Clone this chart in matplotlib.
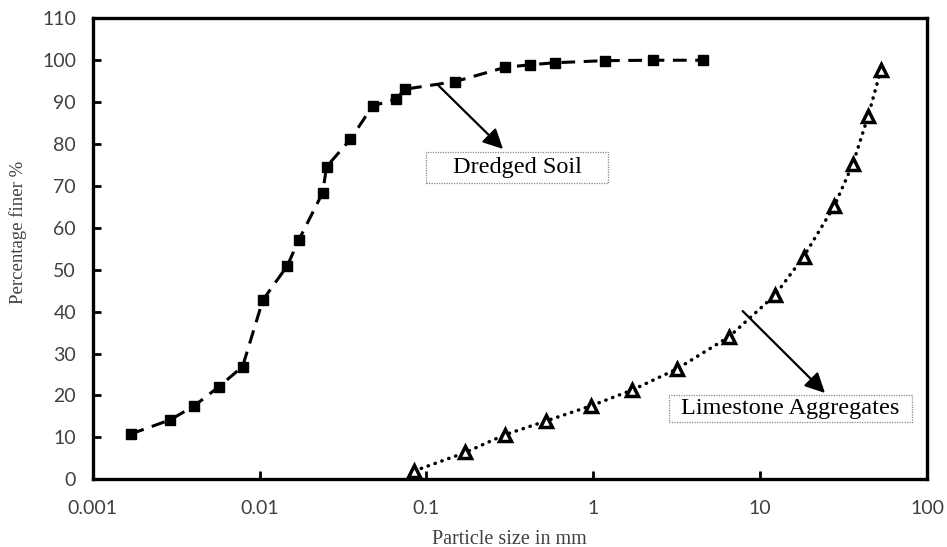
import matplotlib
matplotlib.use("Agg")

import matplotlib.pyplot as plt
from matplotlib.patches import Rectangle

# grain size distribution
soil_size = [0.00169, 0.00292, 0.00405, 0.00571, 0.00791, 0.01047, 0.01464, 0.01718,
             0.0239, 0.0252, 0.0350, 0.0476, 0.0656, 0.0746, 0.1485, 0.296, 0.415,
             0.588, 1.17, 2.28, 4.57]
soil_finer = [10.8, 14.2, 17.5, 22.1, 26.9, 42.8, 50.9, 57.1, 68.4, 74.6, 81.1, 89.1,
              90.7, 93.1, 94.9, 98.3, 98.9, 99.4, 99.9, 100.0, 100.0]

lime_size = [0.0847, 0.171, 0.294, 0.52, 0.964, 1.71, 3.16, 6.51, 12.3, 18.2, 27.8,
             35.9, 44.4, 52.9]
lime_finer = [2.0, 6.4, 10.6, 13.9, 17.5, 21.3, 26.3, 34.0, 44.0, 53.1, 65.2, 75.2,
              86.7, 97.7]

x_ticks = [0.001, 0.01, 0.1, 1, 10, 100]
x_ticklabels = ["0.001", "0.01", "0.1", "1", "10", "100"]
y_ticks = list(range(0, 111, 10))

SERIF = ["Liberation Serif", "DejaVu Serif"]
TICK_FONT = ["Lato", "DejaVu Sans"]
GREY = "#404040"

fig = plt.figure(figsize=(9.47, 5.47), dpi=100)
ax = fig.add_axes([0.0979, 0.1238, 0.881, 0.8427])

ax.plot(soil_size, soil_finer, color="black", lw=2.2, dashes=(4.5, 2.8),
        marker="s", ms=7, mfc="black", mec="black", zorder=3)
ax.plot(lime_size, lime_finer, color="black", lw=2.5, linestyle=(0, (0.1, 2.0)),
        dash_capstyle="round", marker="^", ms=8.5, mfc="white", mec="black",
        mew=2.5, zorder=3)

ax.set_xscale("log")
ax.set_xlim(0.001, 100)
ax.set_ylim(0, 110)
ax.set_xticks(x_ticks)
ax.set_xticklabels(x_ticklabels)
ax.set_yticks(y_ticks)
ax.minorticks_off()
ax.tick_params(direction="in", length=6, width=2, labelsize=14, labelcolor=GREY)
ax.tick_params(axis="x", pad=15)
ax.tick_params(axis="y", pad=12)
for lab in ax.get_xticklabels() + ax.get_yticklabels():
    lab.set_family(TICK_FONT)
for s in ax.spines.values():
    s.set_linewidth(2.4)

ax.set_xlabel("Particle size in mm", family=SERIF, fontsize=14.5, color=GREY,
              labelpad=9)
fig.text(0.019, 0.575, "Percentage finer %", family=SERIF, fontsize=13.5,
         color=GREY, rotation=90, ha="center", va="center")

# callout boxes with arrows
arrow = dict(arrowstyle="-|>", color="black", lw=1.6, mutation_scale=30,
             shrinkA=0, shrinkB=0)
ax.annotate("", xy=(0.4918, 0.7165), xytext=(0.414, 0.855),
            xycoords="axes fraction", arrowprops=arrow)
ax.annotate("", xy=(0.8777, 0.1872), xytext=(0.779, 0.365),
            xycoords="axes fraction", arrowprops=arrow)

for (x0, y0, x1, y1), label in [((0.3995, 0.6427, 0.6176, 0.710), "Dredged Soil"),
                                ((0.691, 0.125, 0.9817, 0.183), "Limestone Aggregates")]:
    ax.add_patch(Rectangle((x0, y0), x1 - x0, y1 - y0, transform=ax.transAxes,
                           fill=True, facecolor="white", edgecolor="#888888",
                           lw=0.9, linestyle=(0, (1, 1)), zorder=4))
    ax.text((x0 + x1) / 2, (y0 + y1) / 2, label, transform=ax.transAxes,
            family=SERIF, fontsize=17.5, ha="center", va="center", zorder=5)

fig.savefig("out.png", dpi=100)
